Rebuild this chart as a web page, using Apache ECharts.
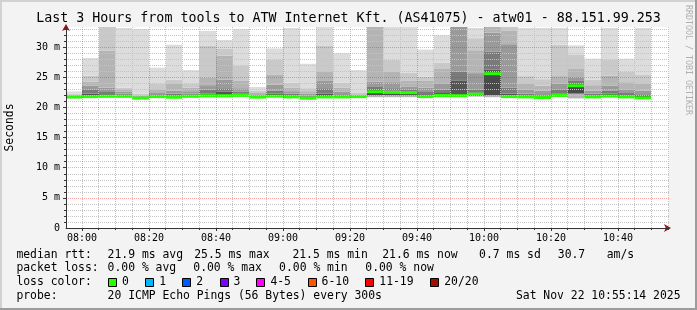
<!DOCTYPE html>
<html><head><meta charset="utf-8">
<script src="https://cdn.jsdelivr.net/npm/echarts@6/dist/echarts.min.js"></script>
<style>html,body{margin:0;padding:0;background:#f3f3f3}#c{width:697px;height:310px}</style>
</head><body><div id="c"></div><script>
// ---- data (ms) : one 5-minute slot per entry, 20 pings summarised ----
const slotStart = ['07:55','08:00','08:05','08:10','08:15','08:20','08:25','08:30','08:35','08:40','08:45','08:50',
  '08:55','09:00','09:05','09:10','09:15','09:20','09:25','09:30','09:35','09:40','09:45','09:50','09:55',
  '10:00','10:05','10:10','10:15','10:20','10:25','10:30','10:35','10:40','10:45'];
const pingMin   = [21.50,21.60,21.70,21.70,21.50,21.60,21.55,21.70,21.70,21.70,21.80,21.55,21.70,21.60,21.50,21.60,21.60,21.65,21.70,21.70,21.70,21.60,21.70,21.75,21.80,21.70,21.60,21.60,21.50,21.75,21.50,21.60,21.70,21.60,21.50];
const pingLow   = [21.60,21.70,21.75,21.75,21.52,21.70,21.60,21.75,21.80,21.80,21.90,21.62,21.80,21.65,21.52,21.65,21.65,21.70,22.00,22.00,22.00,21.70,21.80,21.85,21.90,22.00,21.70,21.65,21.55,21.85,22.30,21.65,21.80,21.65,21.55];
const medianRtt = [21.75,21.80,21.85,21.85,21.55,21.80,21.70,21.85,21.95,21.95,22.00,21.72,21.88,21.75,21.55,21.75,21.75,21.80,22.60,22.50,22.45,21.80,22.00,21.95,22.20,25.60,21.80,21.75,21.65,22.00,23.60,21.75,21.90,21.75,21.60];
const pingUp1   = [21.80,22.30,22.20,22.10,21.70,22.00,22.00,22.10,22.30,22.60,22.30,21.90,22.30,22.00,21.80,22.30,21.95,21.85,22.90,22.80,22.60,22.20,22.40,24.50,22.50,26.30,22.30,22.00,21.95,22.30,24.00,22.00,22.30,22.00,21.90];
const pingUp2   = [21.90,22.90,22.70,22.30,21.80,22.20,22.30,22.30,23.00,23.20,22.60,22.00,22.80,22.30,22.00,23.20,22.20,21.90,23.40,23.20,22.90,22.70,23.00,26.00,23.00,29.30,23.30,22.30,22.20,22.90,24.40,22.30,22.80,22.40,22.20];
const pingUp3   = [22.00,23.60,23.30,22.60,21.90,22.40,22.80,22.70,23.70,24.60,23.20,22.20,23.80,22.70,22.30,24.50,22.60,22.00,24.30,24.20,23.50,23.30,23.90,34.00,25.70,32.40,30.50,23.00,22.80,24.00,25.00,22.80,23.60,23.00,22.80];
const pingUp4   = [22.10,24.30,29.40,22.90,22.00,22.90,24.00,23.30,25.00,28.60,24.50,22.40,25.40,23.30,22.70,26.00,23.30,22.20,34.00,25.90,24.50,24.50,26.50,34.50,29.50,34.00,32.80,24.00,23.60,25.20,26.50,23.70,25.30,24.20,23.90];
const pingUp5   = [22.30,25.30,33.60,23.30,22.30,24.00,24.60,24.00,30.30,29.70,27.00,22.80,28.00,24.10,23.20,30.30,24.10,22.40,34.50,27.90,25.80,25.10,27.40,35.00,31.50,34.50,34.00,25.20,24.70,30.40,28.80,24.60,28.00,26.00,25.40];
const pingMax   = [22.65,28.20,34.00,33.20,33.00,26.60,30.40,26.20,32.70,31.20,33.00,23.40,29.80,33.20,27.25,33.40,29.00,26.20,35.00,33.40,33.40,29.60,32.00,36.00,33.20,35.00,34.50,33.20,33.20,33.20,30.30,28.10,33.20,28.10,33.20];

const xTickLabels = ['08:00','08:20','08:40','09:00','09:20','09:40','10:00','10:20','10:40'];
const yTickValues = [0,5,10,15,20,25,30];
const yTickLabels = ['0','5 m','10 m','15 m','20 m','25 m','30 m'];
const graphEnd = '10:55:14';
const spanMinutes = 180;

const titleText = 'Last 3 Hours from tools to ATW Internet Kft. (AS41075) - atw01 - 88.151.99.253';
const rttStats = ['median rtt:','21.9 ms avg','25.5 ms max','21.5 ms min','21.6 ms now','0.7 ms sd','30.7','am/s'];
const lossStats = ['packet loss:','0.00 % avg','0.00 % max','0.00 % min','0.00 % now'];
const lossLabels = ['0','1','2','3','4-5','6-10','11-19','20/20'];
const lossColors = ['#26ff00','#00b8ff','#0059ff','#7e00ff','#ff00ff','#ff5500','#ff0000','#a01000'];
const probeText = ['probe:','20 ICMP Echo Pings (56 Bytes) every 300s','Sat Nov 22 10:55:14 2025'];

// ---- helpers ----
const toMin = s => { const p = s.split(':').map(Number); return p[0]*60 + p[1] + (p[2]||0)/60; };
const xMax = toMin(graphEnd);
const xMin = xMax - spanMinutes;
const yMax = 33.35;
const xMajor = xTickLabels.map(toMin);
const xMinor = [];
for (let m = Math.ceil(xMin/5)*5; m <= xMax; m += 5) if (xMajor.indexOf(m) < 0) xMinor.push(m);
const yMinor = [];
for (let v = 1; v < yMax; v++) if (v % 5) yMinor.push(v);
const fmtTime = v => { const h = Math.floor(v/60), m = Math.round(v - h*60); return String(h).padStart(2,'0') + ':' + String(m).padStart(2,'0'); };

const data = slotStart.map((s,i) => [toMin(s), pingMin[i], pingLow[i], medianRtt[i], pingUp1[i], pingUp2[i], pingUp3[i], pingUp4[i], pingUp5[i], pingMax[i]]);
const bandColors = ['#b4b4b4','#4a4a4a','#555555','#7a7a7a','#9a9a9a','#b4b4b4','#c9c9c9','#dcdcdc'];

const FONT = '"DejaVu Sans Mono", monospace';
const grayGrid = '#c4c4c4';
const redGrid = 'rgba(255,0,0,0.35)';
const axisColor = '#333333';
const arrowColor = '#a01010';

function renderItem(params, api) {
  const t = api.value(0);
  const xa = api.coord([Math.max(t, xMin), 0])[0];
  const xb = api.coord([Math.min(t + 5, xMax), 0])[0];
  const x0 = Math.round(xa), x1 = Math.round(xb);
  const cy = v => api.coord([t, Math.min(v, yMax)])[1];
  const bounds = [];
  for (let k = 1; k <= 9; k++) bounds.push(api.value(k));
  const children = [];
  for (let k = 0; k < 8; k++) {
    const ya = cy(bounds[k]), yb = cy(Math.max(bounds[k+1], bounds[k]));
    if (ya - yb > 0.01) children.push({type:'rect', shape:{x:x0, y:yb, width:x1-x0, height:ya-yb}, style:{fill:bandColors[k]}});
  }
  const ym = cy(bounds[2]);
  children.push({type:'rect', shape:{x:x0, y:ym-1.5, width:x1-x0, height:3}, style:{fill:lossColors[0]}});
  return {type:'group', children};
}

const T = (text, x, y, extra) => ({type:'text', x, y, silent:true, z:20,
  style: Object.assign({text, fill:'#000', font:'11.4px ' + FONT, align:'left', textAlign:'left', verticalAlign:'middle', textVerticalAlign:'middle'}, extra||{})});

const rowY = [255, 268.5, 282.3, 296];
const graphics = [
  // frame
  {type:'rect', shape:{x:0,y:0,width:697,height:2}, style:{fill:'#d2d2d2'}, z:20},
  {type:'rect', shape:{x:0,y:0,width:2,height:310}, style:{fill:'#d2d2d2'}, z:20},
  {type:'rect', shape:{x:0,y:308,width:697,height:2}, style:{fill:'#9c9c9c'}, z:20},
  {type:'rect', shape:{x:695,y:0,width:2,height:310}, style:{fill:'#9c9c9c'}, z:20},
  T(titleText, 348.5, 19, {font:'13.3px ' + FONT, align:'center', textAlign:'center'}),
  T('Seconds', 10, 127.5, {align:'center', textAlign:'center'}),
  {type:'text', x:688, y:60, rotation:-Math.PI/2, silent:true, z:20,
    style:{text:'RRDTOOL / TOBI OETIKER', fill:'#b0b0b0', font:'8.3px ' + FONT, align:'center', textAlign:'center', verticalAlign:'middle', textVerticalAlign:'middle'}}
];
graphics[5].rotation = Math.PI/2;
const rttX = [16.4, 107.6, 194.2, 292.4, 382.2, 479.1, 557.8, 606.7];
rttStats.forEach((s,i) => graphics.push(T(s, rttX[i], rowY[0])));
const lossX = [16.4, 107.6, 193.3, 279.1, 365.3];
lossStats.forEach((s,i) => graphics.push(T(s, lossX[i], rowY[1])));
graphics.push(T('loss color:', 16.4, rowY[2]));
const boxX = [108, 145.3, 182.2, 219.6, 256.4, 307.6, 365.3, 430.2];
lossLabels.forEach((s,i) => {
  graphics.push({type:'rect', z:20, shape:{x:Math.round(boxX[i])+0.5, y:278.5, width:8, height:8}, style:{fill:lossColors[i], stroke:'#000', lineWidth:1}});
  graphics.push(T(s, boxX[i] + 14, rowY[2]));
});
graphics.push(T(probeText[0], 16.4, rowY[3]));
graphics.push(T(probeText[1], 107.6, rowY[3]));
graphics.push(T(probeText[2], 680.5, rowY[3], {align:'right', textAlign:'right'}));

const chart = echarts.init(document.getElementById('c'), null, {renderer:'canvas'});
chart.setOption({
  backgroundColor: '#f3f3f3',
  animation: false,
  grid: {left:66, right:28, top:27, bottom:82, show:true, backgroundColor:'#ffffff', borderWidth:0},
  xAxis: [
    {type:'value', min:xMin, max:xMax, z:6, position:'bottom',
      axisLine:{show:true, onZero:false, lineStyle:{color:axisColor, width:1}},
      axisTick:{show:true, length:3, customValues:xMajor, lineStyle:{color:axisColor}},
      axisLabel:{show:true, customValues:xMajor, formatter: v => fmtTime(v), fontFamily:FONT, fontSize:10, color:'#000', margin:5},
      splitLine:{show:true, lineStyle:{color:redGrid, type:[1,1], width:1}}},
    {type:'value', min:xMin, max:xMax, z:5, position:'bottom',
      axisLine:{show:true, onZero:false, symbol:['none','arrow'], symbolSize:[6,7], symbolOffset:[0,2], lineStyle:{color:arrowColor, opacity:0}},
      axisTick:{show:true, length:2, customValues:xMinor, lineStyle:{color:axisColor}},
      axisLabel:{show:false},
      splitLine:{show:true, lineStyle:{color:grayGrid, type:[1,1], width:1}}}
  ],
  yAxis: [
    {type:'value', min:0, max:yMax, z:6,
      axisLine:{show:true, onZero:false, lineStyle:{color:axisColor, width:1}},
      axisTick:{show:true, length:3, customValues:yTickValues.slice(1), lineStyle:{color:axisColor}},
      axisLabel:{show:true, customValues:yTickValues, formatter: v => yTickLabels[yTickValues.indexOf(v)] || '', fontFamily:FONT, fontSize:10, color:'#000', margin:6},
      splitLine:{show:true, lineStyle:{color:redGrid, type:[1,1], width:1}}},
    {type:'value', min:0, max:yMax, z:5, position:'left',
      axisLine:{show:true, onZero:false, symbol:['none','arrow'], symbolSize:[6,7], symbolOffset:[0,3], lineStyle:{color:arrowColor, opacity:0}},
      axisTick:{show:true, length:2, customValues:yMinor, lineStyle:{color:axisColor}},
      axisLabel:{show:false},
      splitLine:{show:true, lineStyle:{color:grayGrid, type:[1,1], width:1}}}
  ],
  series: [{
    type:'custom', xAxisIndex:0, yAxisIndex:0, z:2, clip:true,
    renderItem, data, encode:{x:0, y:[1,9]}
  }],
  graphic: graphics
});
</script></body></html>
